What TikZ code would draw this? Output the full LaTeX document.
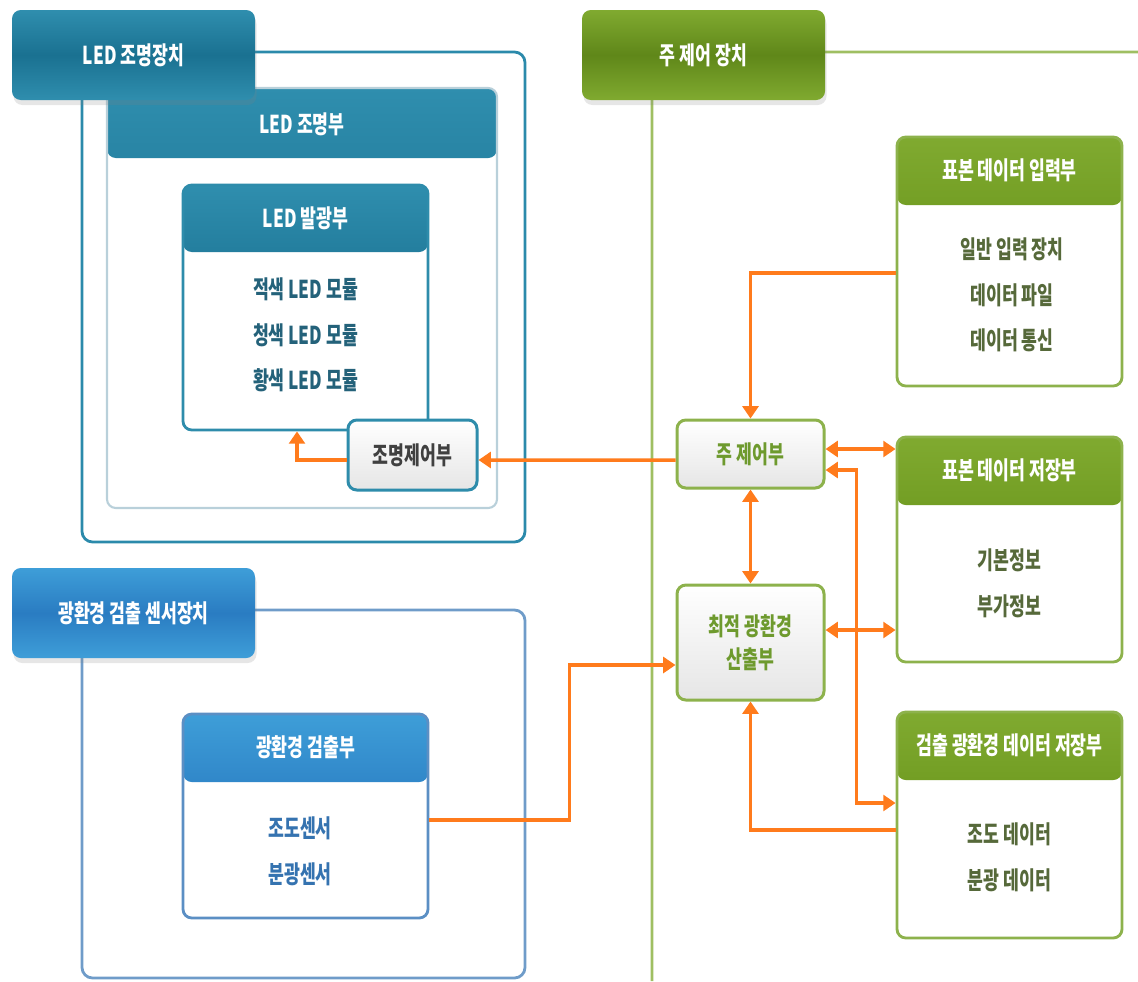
\documentclass[tikz,border=0pt]{standalone}
\usepackage{fontspec}
\setmainfont{Noto Sans CJK KR}[FakeStretch=0.7]
\usetikzlibrary{arrows.meta, positioning, calc, shadows}
\definecolor{ledA}{HTML}{1A7191}
\definecolor{ledB}{HTML}{2F8EAE}
\definecolor{ledframe}{HTML}{2B8AAB}
\definecolor{ledpale}{HTML}{B9D0DA}
\definecolor{ledmid}{HTML}{2E8CAB}
\definecolor{ledtext}{HTML}{24627A}
\definecolor{sensA}{HTML}{3E9ED8}
\definecolor{sensB}{HTML}{2A7CC2}
\definecolor{sensframe}{HTML}{6F9CC9}
\definecolor{sensmid}{HTML}{5B8FC4}
\definecolor{senstext}{HTML}{3573B0}
\definecolor{mainA}{HTML}{80AA30}
\definecolor{mainB}{HTML}{6A961C}
\definecolor{mainframe}{HTML}{9FBF62}
\definecolor{mainmid}{HTML}{8DB24C}
\definecolor{maintext}{HTML}{56693A}
\definecolor{maingreen}{HTML}{6E9A2E}
\definecolor{flow}{HTML}{FF7B1C}

\begin{document}
\begin{tikzpicture}[
    title/.style={rectangle, rounded corners=5pt, minimum width=4.86cm, minimum height=1.8cm,
                  text=white, font=\fontsize{14}{16}\selectfont\bfseries,
                  drop shadow={shadow xshift=0.03cm, shadow yshift=-0.1cm, opacity=0.2}},
    panel/.style={rectangle, rounded corners=5pt, fill=white, line width=1.6pt},
    head/.style n args={3}{path picture={\shade[top color=#1, bottom color=#1, middle color=#2]
        (path picture bounding box.north west) rectangle ([yshift=-#3]path picture bounding box.north east);}},
    htext/.style={text=white, font=\fontsize{14}{16}\selectfont\bfseries},
    items/.style={align=center, font=\fontsize{14}{26}\selectfont\bfseries},
    ctlbox/.style={rectangle, rounded corners=5pt, line width=1.7pt, top color=white,
                   bottom color=black!10, align=center, font=\fontsize{14}{19}\selectfont\bfseries},
    arr/.style={-{Triangle[length=7pt,width=9pt]}, line width=2pt, flow},
    darr/.style={{Triangle[length=7pt,width=9pt]}-{Triangle[length=7pt,width=9pt]}, line width=2pt, flow}
]
\useasboundingbox (0,0) rectangle (22.76,-19.62);

% LED lighting device
\draw[line width=1.6pt, ledframe, rounded corners=6pt] (1.64,-1.04) rectangle (10.5,-10.84);
\node[panel, draw=ledpale, line width=1.2pt, minimum width=7.8cm, minimum height=8.4cm,
      head={ledB}{ledA}{1.4cm}] (ledpart) at (6.04,-5.96) {};
\node[htext] (ledparttitle) at ([yshift=-0.75cm]ledpart.north) {LED 조명부};
\node[title, top color=ledB, bottom color=ledB, middle color=ledA] (ledtitle) at (2.67,-1.10) {LED 조명장치};
\node[panel, draw=ledmid, minimum width=4.9cm, minimum height=4.9cm,
      head={ledB}{ledA}{1.34cm}] (emit) at (6.11,-6.15) {};
\node[htext] (emittitle) at ([yshift=-0.7cm]emit.north) {LED 발광부};
\node[items, text=ledtext] (emitlist) at (6.11,-6.7) {적색 LED 모듈\\청색 LED 모듈\\황색 LED 모듈};
\node[ctlbox, draw=ledmid, text=black!75, minimum width=2.58cm, minimum height=1.4cm] (lightctl) at (8.25,-9.1) {조명제어부};

% sensor device
\draw[line width=1.6pt, sensframe, rounded corners=6pt] (1.64,-12.2) rectangle (10.5,-19.56);
\node[title, top color=sensA, bottom color=sensA, middle color=sensB] (senstitle) at (2.67,-12.26) {광환경 검출 센서장치};
\node[panel, draw=sensmid, minimum width=4.9cm, minimum height=4.08cm,
      head={sensA}{sensB}{1.36cm}] (detect) at (6.11,-16.32) {};
\node[htext] (detecttitle) at ([yshift=-0.7cm]detect.north) {광환경 검출부};
\node[items, text=senstext] (detectlist) at (6.0,-17.02) {조도센서\\분광센서};

% main control device
\draw[line width=1.6pt, mainframe, rounded corners=6pt] (13.04,-19.62) -- (13.04,-1.04) -- (22.76,-1.04);
\node[title, top color=mainA, bottom color=mainA, middle color=mainB!90!black] (maintitle) at (14.07,-1.10) {주 제어 장치};
\node[panel, draw=mainmid, minimum width=4.5cm, minimum height=4.98cm,
      head={mainA}{mainB}{1.36cm}] (input) at (20.19,-5.23) {};
\node[htext] (inputtitle) at ([yshift=-0.7cm]input.north) {표본 데이터 입력부};
\node[items, text=maintext] (inputlist) at (20.24,-5.9) {일반 입력 장치\\데이터 파일\\데이터 통신};
\node[panel, draw=mainmid, minimum width=4.5cm, minimum height=4.5cm,
      head={mainA}{mainB}{1.36cm}] (store) at (20.19,-10.99) {};
\node[htext] (storetitle) at ([yshift=-0.7cm]store.north) {표본 데이터 저장부};
\node[items, text=maintext] (storelist) at (20.19,-11.66) {기본정보\\부가정보};
\node[panel, draw=mainmid, minimum width=4.5cm, minimum height=4.52cm,
      head={mainA}{mainB}{1.36cm}] (detstore) at (20.19,-16.5) {};
\node[htext] (detstoretitle) at ([yshift=-0.7cm]detstore.north) {검출 광환경 데이터 저장부};
\node[items, text=maintext] (detstorelist) at (20.19,-17.15) {조도 데이터\\분광 데이터};
\node[ctlbox, draw=mainmid, text=maingreen, minimum width=2.94cm, minimum height=1.36cm] (mainctl) at (15.01,-9.08) {주 제어부};
\node[ctlbox, draw=mainmid, text=maingreen, minimum width=2.94cm, minimum height=2.3cm] (optim) at (15.01,-12.85) {최적 광환경\\산출부};

% connectors
\coordinate (instart) at ([yshift=0.1cm]mainctl.east);
\coordinate (backstart) at ([yshift=-0.32cm]mainctl.east);
\coordinate (optstart) at ([yshift=0.25cm]optim.east);
\draw[arr] ([yshift=-0.23cm]input.west) -| (mainctl.north);
\draw[arr] ([yshift=-0.12cm]mainctl.west) -- ([yshift=-0.1cm]lightctl.east);
\draw[arr] ([yshift=-0.1cm]lightctl.west) -| ([xshift=-0.17cm]emit.south);
\draw[darr] (instart) -- (instart -| store.west);
\draw[darr] (backstart) -- ++(0.62,0) |- ([yshift=0.44cm]detstore.west);
\draw[darr] (mainctl.south) -- (optim.north);
\draw[darr] (optstart) -- (optstart -| store.west);
\draw[arr] ([yshift=-0.1cm]detstore.west) -| (optim.south);
\draw[arr] ([yshift=-0.08cm]detect.east) -- ++(2.8,0) |- ([yshift=-0.45cm]optim.west);
\end{tikzpicture}
\end{document}
